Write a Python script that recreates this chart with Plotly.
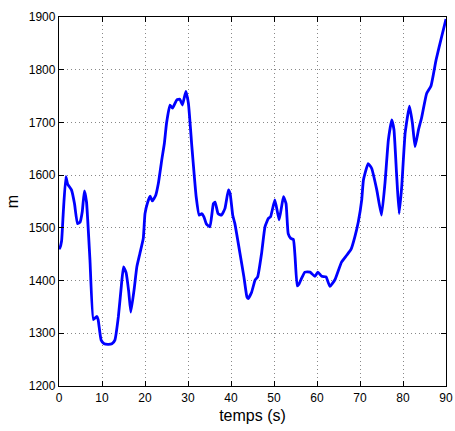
import plotly.graph_objects as go

# time (s) and altitude (m)
t = [0.0, 0.2, 0.6, 1.0, 1.6, 2.0, 2.9, 3.6, 4.3, 4.9, 5.4, 5.9, 6.4, 7.2, 8.0, 8.8, 9.1, 9.8,
     10.5, 11.5, 12.3, 13.0, 13.8, 14.5, 15.0, 15.6, 16.2, 16.7, 17.5, 18.1, 18.8, 19.6, 20.0,
     20.6, 21.2, 21.7, 22.5, 23.1, 23.9, 24.5, 25.0, 25.8, 26.4, 27.4, 28.1, 28.7, 29.5, 30.1,
     30.9, 31.9, 32.6, 33.2, 33.7, 34.3, 35.1, 35.9, 36.3, 37.0, 37.8, 38.6, 39.4, 39.8, 40.4,
     40.9, 42.1, 43.0, 43.7, 44.0, 44.8, 45.6, 46.2, 47.1, 47.9, 48.7, 49.2, 50.2, 51.2, 52.2,
     52.8, 53.3, 53.9, 54.5, 54.9, 55.4, 55.8, 56.4, 57.2, 58.4, 59.5, 60.2, 61.1, 62.1, 63.0,
     64.2, 65.7, 66.9, 67.9, 68.8, 69.6, 70.4, 70.8, 71.9, 72.7, 73.9, 75.0, 75.8, 76.6, 77.4,
     77.9, 78.5, 79.1, 79.7, 80.5, 81.5, 82.2, 82.8, 83.6, 84.3, 85.5, 86.5, 87.7, 89.0, 90.0]
alt = [1460, 1462, 1475, 1530, 1597, 1583, 1572, 1546, 1508, 1511, 1530, 1570, 1549, 1439,
       1326, 1332, 1326, 1287, 1280, 1279, 1280, 1287, 1331, 1390, 1426, 1415, 1380, 1340, 1385,
       1426, 1451, 1480, 1527, 1548, 1560, 1551, 1562, 1584, 1629, 1660, 1698, 1733, 1727, 1743,
       1744, 1733, 1759, 1736, 1654, 1559, 1524, 1527, 1521, 1507, 1502, 1546, 1549, 1527, 1524,
       1537, 1572, 1565, 1524, 1508, 1451, 1407, 1369, 1366, 1378, 1401, 1407, 1451, 1502, 1518,
       1521, 1553, 1515, 1559, 1546, 1489, 1480, 1478, 1445, 1390, 1393, 1404, 1416, 1416, 1408,
       1416, 1408, 1407, 1389, 1402, 1435, 1448, 1459, 1483, 1511, 1553, 1591, 1622, 1613, 1572,
       1524, 1584, 1667, 1705, 1686, 1603, 1527, 1578, 1680, 1731, 1698, 1654, 1686, 1708, 1755,
       1769, 1819, 1863, 1896]

x_ticks = list(range(0, 91, 10))
y_ticks = list(range(1200, 1901, 100))

FONT = "Liberation Sans, Arial"

fig = go.Figure(go.Scatter(x=t, y=alt, mode="lines",
                           line=dict(color="#0000ff", width=2.8, shape="spline", smoothing=0.4)))

axis_common = dict(showline=True, linecolor="black", linewidth=1.3, mirror="allticks",
                   ticks="inside", ticklen=5, tickcolor="black",
                   showgrid=True, gridcolor="#888888", gridwidth=1, griddash="1px,3px",
                   zeroline=False, automargin=False,
                   tickfont=dict(family=FONT, size=12, color="black"))

fig.update_layout(
    width=455, height=431,
    margin=dict(l=59, r=9, t=17, b=45),
    paper_bgcolor="white", plot_bgcolor="white",
    showlegend=False,
    xaxis=dict(range=[0, 90], tickvals=x_ticks,
               title=dict(text="temps (s)", font=dict(family=FONT, size=16, color="black"), standoff=6),
               **axis_common),
    yaxis=dict(range=[1200, 1900], tickvals=y_ticks,
               title=dict(text="m", font=dict(family=FONT, size=16, color="black"), standoff=6),
               **axis_common),
)

fig.write_html("out.html", config={"displayModeBar": False},
               post_script="document.body.style.margin='0px';")
